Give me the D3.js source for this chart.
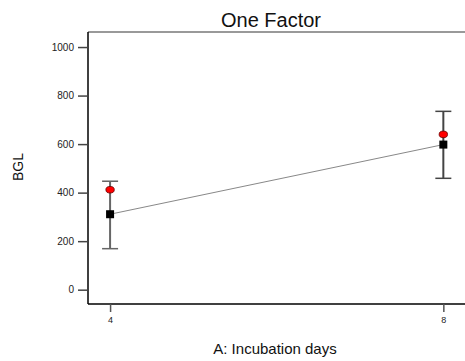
<!DOCTYPE html>
<html><head><meta charset="utf-8">
<script src="https://cdn.jsdelivr.net/npm/d3@7"></script>
<style>body{margin:0;background:#fff}svg{display:block}text{font-family:"Liberation Sans",Arial,sans-serif}</style>
</head><body><svg id="c" width="465" height="361"></svg>
<script>
const levels = [4, 8];
const predicted = [311, 598];
const observed = [412, 640];
const lowerCI = [169, 459];
const upperCI = [447, 735];
const yTicks = [0, 200, 400, 600, 800, 1000];
const xTicks = [4, 8];
const title = "One Factor";
const xLabel = "A: Incubation days";
const yLabel = "BGL";

(function () {
const svg = d3.select("#c");
const pL = 88, pR = 470, pT = 32, pB = 304;
const x = d3.scaleLinear().domain([3.735, 8.32]).range([pL, pR]);
const y = d3.scaleLinear().domain([-59, 1062]).range([pB, pT]);

// frame
svg.append("line").attr("x1", pL).attr("x2", pR).attr("y1", pT).attr("y2", pT).attr("stroke", "#777").attr("stroke-width", 1.5);
svg.append("line").attr("x1", pL).attr("x2", pR).attr("y1", pB).attr("y2", pB).attr("stroke", "#000").attr("stroke-width", 1.5);
svg.append("line").attr("x1", pL).attr("x2", pL).attr("y1", pT).attr("y2", pB).attr("stroke", "#000").attr("stroke-width", 1.5);

// y axis
const yAxis = d3.axisLeft(y).tickValues(yTicks).tickSize(10).tickPadding(4).tickFormat(d3.format("d"));
const ga = svg.append("g").attr("transform", `translate(${pL},0)`).call(yAxis);
ga.select(".domain").remove();
ga.selectAll(".tick line").attr("stroke", "#444").attr("stroke-width", 1.5);
ga.selectAll(".tick text").attr("font-size", 10).attr("fill", "#222").style("font-family", '"Liberation Sans",Arial,sans-serif');

// x axis
const xAxis = d3.axisBottom(x).tickValues(xTicks).tickSize(8).tickPadding(5).tickFormat(d3.format("d"));
const gx = svg.append("g").attr("transform", `translate(0,${pB})`).call(xAxis);
gx.select(".domain").remove();
gx.selectAll(".tick line").attr("stroke", "#555").attr("stroke-width", 1.5);
gx.selectAll(".tick text").attr("font-size", 9).attr("fill", "#222").style("font-family", '"Liberation Sans",Arial,sans-serif');

const data = levels.map((l, i) => ({l, p: predicted[i], o: observed[i], lo: lowerCI[i], hi: upperCI[i]}));

// line through predictions
svg.append("path").datum(data)
  .attr("d", d3.line().x(d => x(d.l)).y(d => y(d.p)))
  .attr("fill", "none").attr("stroke", "#888").attr("stroke-width", 1);

// error bars
const eb = svg.append("g");
data.forEach((d, i) => {
  const c = i === 0 ? "#666" : "#444";
  eb.append("line").attr("x1", x(d.l)).attr("x2", x(d.l)).attr("y1", y(d.hi)).attr("y2", y(d.lo)).attr("stroke", c).attr("stroke-width", 2);
  [d.hi, d.lo].forEach(v => eb.append("line").attr("x1", x(d.l) - 8).attr("x2", x(d.l) + 8).attr("y1", y(v)).attr("y2", y(v)).attr("stroke", c).attr("stroke-width", 1.5));
});

// observed points
svg.selectAll("ellipse.obs").data(data).enter().append("ellipse")
  .attr("cx", d => x(d.l)).attr("cy", d => y(d.o)).attr("rx", 4.2).attr("ry", 3.3)
  .attr("fill", "#ff0000").attr("stroke", "#600").attr("stroke-width", 0.8);

// predicted squares
svg.selectAll("rect.pred").data(data).enter().append("rect")
  .attr("x", d => x(d.l) - 4).attr("y", d => y(d.p) - 4).attr("width", 8).attr("height", 8).attr("fill", "#000");

// titles
svg.append("text").attr("x", 271).attr("y", 27).attr("text-anchor", "middle").attr("font-size", 20).attr("fill", "#111").text(title);
svg.append("text").attr("x", 275).attr("y", 354).attr("text-anchor", "middle").attr("font-size", 15).attr("fill", "#111").text(xLabel);
svg.append("text").attr("transform", "translate(23,167) rotate(-90)").attr("text-anchor", "middle").attr("font-size", 14).attr("fill", "#111").text(yLabel);
})();
</script></body></html>
